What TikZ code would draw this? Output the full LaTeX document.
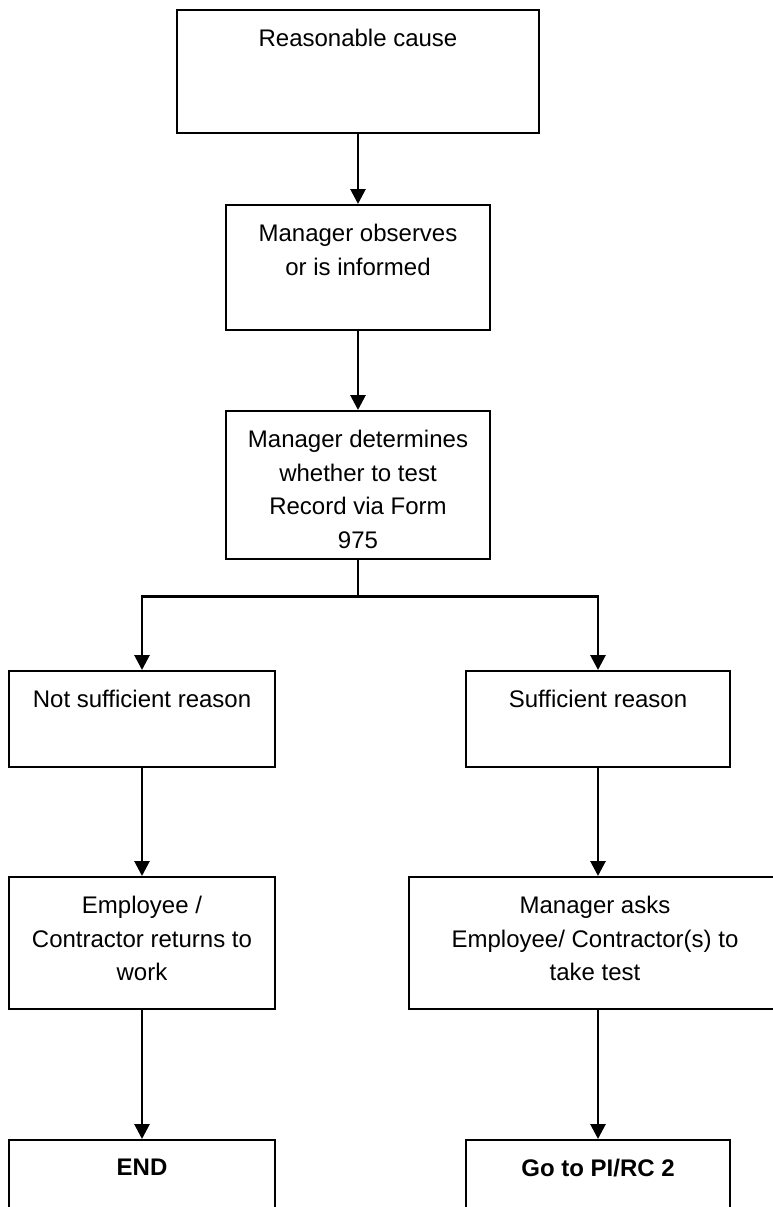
\documentclass[tikz,border=0pt]{standalone}
\usepackage{fontspec}
\setmainfont{Liberation Sans}
\usetikzlibrary{arrows.meta,positioning}
\definecolor{ink}{RGB}{0,0,0}
\def\ColL{142}
\def\ColM{358}
\def\ColR{598}
\tikzset{
  stepbox/.style={
    draw=ink, line width=1.8pt, inner sep=0pt, anchor=north,
  },
  steptxt/.style={
    align=center, inner sep=0pt, anchor=north, text=ink,
    font=\fontsize{24}{33.5}\selectfont,
  },
  endtxt/.style={steptxt, font=\fontsize{24}{33.5}\selectfont\bfseries},
  arr/.style={-{Triangle[length=15pt,width=15pt]}, line width=2.8pt, draw=ink},
  forkline/.style={line width=2pt, draw=ink},
}

\begin{document}
\begin{tikzpicture}[x=1pt,y=-1pt]
  \useasboundingbox (0,0) rectangle (773,1207);
  \clip (0,0) rectangle (773,1207);

  % middle column
  \node[stepbox, minimum width=362pt, minimum height=123pt] (cause) at (\ColM,9) {};
  \node[steptxt, below=20pt of cause.north] (causet) {Reasonable cause};
  \node[stepbox, minimum width=264pt, minimum height=125pt] (observe) at (\ColM,204) {};
  \node[steptxt, below=20pt of observe.north] (observet) {Manager observes\\or is informed};
  \node[stepbox, minimum width=264pt, minimum height=148pt] (decide) at (\ColM,410) {};
  \node[steptxt, below=20pt of decide.north] (decidet) {Manager determines\\whether to test\\Record via Form\\975};

  % left branch
  \node[stepbox, minimum width=266pt, minimum height=96pt] (noreason) at (\ColL,670) {};
  \node[steptxt, below=20pt of noreason.north] (noreasont) {Not sufficient reason};
  \node[stepbox, minimum width=266pt, minimum height=132pt] (resume) at (\ColL,876) {};
  \node[steptxt, below=20pt of resume.north] (resumet) {Employee /\\Contractor returns to\\work};
  \node[stepbox, minimum width=266pt, minimum height=90pt] (finish) at (\ColL,1139) {};
  \node[endtxt, below=20pt of finish.north] (finisht) {END};

  % right branch
  \node[stepbox, minimum width=264pt, minimum height=96pt] (reason) at (\ColR,670) {};
  \node[steptxt, below=20pt of reason.north] (reasont) {Sufficient reason};
  \node[stepbox, minimum width=378pt, minimum height=132pt] (asktest) at (\ColR,876) {};
  \node[steptxt, below=20pt of asktest.north, xshift=-3pt] (asktestt) {Manager asks\\Employee/ Contractor(s) to\\take test};
  \node[stepbox, minimum width=264pt, minimum height=90pt] (pirc) at (\ColR,1139) {};
  \node[endtxt, below=20pt of pirc.north] (pirct) {Go to PI/RC 2};

  \draw[arr] (cause) -- (observe);
  \draw[arr] (observe) -- (decide);
  \coordinate (split) at ([yshift=-37pt]decide.south);
  \draw[forkline] (decide) -- (split);
  \draw[arr] (split) -| (noreason);
  \draw[arr] (split) -| (reason);
  \draw[arr] (noreason) -- (resume);
  \draw[arr] (resume) -- (finish);
  \draw[arr] (reason) -- (asktest);
  \draw[arr] (asktest) -- (pirc);
\end{tikzpicture}
\end{document}
